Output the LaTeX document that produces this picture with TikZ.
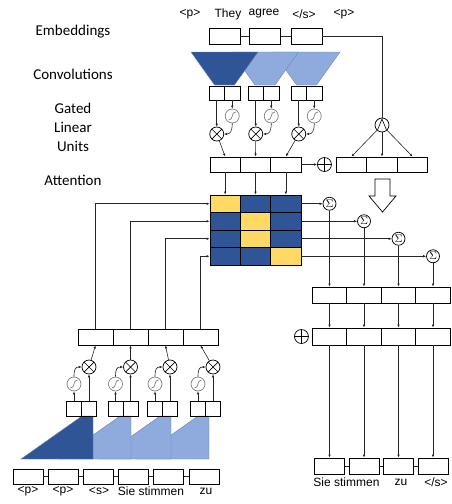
\documentclass[tikz,border=0pt]{standalone}
\usepackage{fontspec}
\setmainfont{Liberation Sans}
\newfontfamily\stagefont{Carlito}
\usetikzlibrary{arrows.meta, calc, positioning}
\definecolor{convdark}{RGB}{47,85,151}
\definecolor{convlight}{RGB}{143,170,220}
\definecolor{attn}{RGB}{255,217,102}
\tikzset{%
  >={Latex[length=3pt,width=2.6pt]},
  cell/.style = {rectangle, draw, line width=0.9pt, minimum width=30pt,
                 minimum height=15pt, inner sep=0pt},
  half/.style = {cell, minimum width=15pt},
  attcell/.style = {cell, minimum width=30.33pt, minimum height=17.5pt},
  gate/.style = {circle, draw, line width=0.7pt, minimum size=14pt, inner sep=0pt},
  mult/.style = {gate, path picture={
      \draw[line width=0.7pt]
        (path picture bounding box.north west) -- (path picture bounding box.south east)
        (path picture bounding box.north east) -- (path picture bounding box.south west);}},
  plus/.style = {gate, path picture={
      \draw[line width=0.7pt]
        (path picture bounding box.north) -- (path picture bounding box.south)
        (path picture bounding box.west) -- (path picture bounding box.east);}},
  sig/.style = {gate, draw=gray, path picture={
      \draw[gray, line width=0.7pt]
        ([shift={(-3.5,4)}]path picture bounding box.center)
        .. controls ([shift={(1.5,4)}]path picture bounding box.center)
        and ([shift={(-1.5,-4)}]path picture bounding box.center)
        .. ([shift={(3.5,-4)}]path picture bounding box.center);}},
  wedge/.style = {gate, path picture={
      \draw[line width=0.6pt]
        ([shift={(-4.5,5)}]path picture bounding box.center)
        -- ([shift={(0,-6)}]path picture bounding box.center)
        -- ([shift={(4.5,5)}]path picture bounding box.center);}},
  summ/.style = {gate, minimum size=13pt, font=\fontsize{11}{11}\selectfont},
  conn/.style = {line width=0.6pt, draw=black!85},
  tok/.style = {font=\fontsize{12}{12}\selectfont, inner sep=0pt},
  stage/.style = {font=\stagefont\fontsize{15}{19}\selectfont, align=center}
  }

\begin{document}
\begin{tikzpicture}[x=1pt, y=-1pt]
  \useasboundingbox (0,0) rectangle (452,504);

  % stage names
  \node (lemb) [stage] at (73,32) {Embeddings};
  \node (lconv) [stage] at (73,74) {Convolutions};
  \node (lglu) [stage] at (73,127) {Gated\\Linear\\Units};
  \node (latt) [stage] at (73,180) {Attention};

  % encoder
  \begin{scope}
    \node (t1) [tok] at (190,14) {<p>};
    \node (t2) [tok] at (228,14) {They};
    \node (t3) [tok] at (264,14) {agree};
    \node (t4) [tok] at (304,14) {</s>};
    \node (t5) [tok] at (344,14) {<p>};

    \foreach \x [count=\i] in {224.5,265,306.5}
      \node (e\i) [cell, minimum width=31pt, minimum height=16pt] at (\x,36) {};
    \draw[conn] (e1) -- (e2) (e2) -- (e3);

    \foreach \x/\c in {306.5/convlight, 265/convlight, 224.5/convdark}
      \filldraw[fill=\c, draw=convdark!70, line width=0.4pt]
        (\x-33.5,52) -- (\x+33.5,52) -- (\x+10,85) -- (\x-10,85) -- cycle;

    \foreach \x [count=\i] in {224.5,263.5,306.5}
    {
      \node (ca\i) [half, minimum width=15.5pt, minimum height=14pt] at (\x-7.75,93) {};
      \node (cb\i) [half, minimum width=15.5pt, minimum height=14pt] at (\x+7.75,93) {};
      \node (s\i) [sig] at (\x+7.75,116) {};
      \node (g\i) [mult] at (\x-7.75,134) {};
      \node (o\i) [cell, minimum width=30.33pt] at ({210+(\i-0.5)*30.33},164.5) {};
      \draw[conn, ->] (ca\i) -- (g\i);
      \draw[conn, ->] (cb\i) -- (s\i);
      \draw[conn, ->] (s\i.south) .. controls +(0,8) and +(6,0) .. (g\i.east);
      \draw[conn, ->] (g\i) -- (o\i.north);
    }

    \foreach \x [count=\i] in {351.5,382,412.5}
      \node (r\i) [cell, minimum width=30.5pt] at (\x,164.5) {};
    \node (plus1) [plus, left=4pt of r1] {};
    \node (and1) [wedge] at (382,125) {};
    \draw[conn, ->] (o3) -- (plus1);
    \draw[conn] (e3.east) -| (and1.north);
    \foreach \i in {1,2,3}
      \draw[conn, ->] (and1) -- (r\i.north);

    \draw[line width=0.7pt, fill=white] (375,179) -- (390,179) -- (390,196)
      -- (396,196) -- (382.5,212) -- (369,196) -- (375,196) -- cycle;
  \end{scope}

  % attention scores
  \foreach \r/\h in {1/1,2/2,3/2,4/3}
    \foreach \c in {1,2,3}
    {
      \ifnum\c=\h\def\cellfill{attn}\else\def\cellfill{convdark}\fi
      \node (m-\r-\c) [attcell, fill=\cellfill]
        at ({210+(\c-0.5)*30.33},{195+(\r-0.5)*17.5}) {};
    }
  \foreach \i in {1,2,3}
    \draw[conn, ->] (o\i) -- (m-1-\i.north);

  % decoder input
  \begin{scope}
    \foreach \x [count=\i] in {28,63.2,98.4,133.6,168.8,204}
      \node (b\i) [cell] at (\x,476.5) {};
    \foreach \i [evaluate=\i as \j using int(\i+1)] in {1,...,5}
      \draw[conn] (b\i) -- (b\j);
    \node (u1) [tok] at (28,491) {<p>};
    \node (u2) [tok] at (63,491) {<p>};
    \node (u3) [tok] at (99,491) {<s>};
    \node (u4) [tok] at (151,491) {Sie stimmen};
    \node (u5) [tok] at (206,491) {zu};

    \foreach \x/\c in {209/convlight, 171/convlight, 131/convlight, 93/convdark}
      \filldraw[fill=\c, draw=convdark!70, line width=0.4pt]
        (\x-72,459) -- (\x-11,416) -- (\x,416) -- (\x,459) -- cycle;

    \foreach \x [count=\i] in {95.5,130.5,165.5,200.5}
      \node (d\i) [cell, minimum width=35pt, minimum height=16pt] at (\x,337) {};
    \foreach \x [count=\i] in {81.5,123,162.5,205.5}
    {
      \node (dl\i) [half] at (\x-7.5,408.5) {};
      \node (dr\i) [half] at (\x+7.5,408.5) {};
      \node (ds\i) [sig] at (\x-7.5,384) {};
      \node (dg\i) [mult] at (\x+7.5,367) {};
      \draw[conn, ->] (dl\i) -- (ds\i);
      \draw[conn, ->] (dr\i) -- (dg\i);
      \draw[conn, ->] (ds\i.north) .. controls +(0,-8) and +(-6,0) .. (dg\i.west);
      \draw[conn, ->] (dg\i) -- (d\i.south);
      \draw[conn, ->] (d\i.north) |- (m-\i-1.west);
    }
  \end{scope}

  % decoder output
  \begin{scope}
    \foreach \x [count=\i] in {329.5,364,398.5,433}
    {
      \node (q\i) [cell, minimum width=34.5pt, minimum height=16pt] at (\x,295) {};
      \node (p\i) [cell, minimum width=34.5pt, minimum height=17pt] at (\x,336.5) {};
      \node (z\i) [summ] at (q\i |- m-\i-3) {$\Sigma$};
      \draw[conn, ->] (m-\i-3.east) -- (z\i);
      \draw[conn, ->] (z\i) -- (q\i.north);
      \draw[conn, ->] (q\i) -- (p\i.north);
    }
    \node (plus2) [plus, left=3pt of p1] {};

    \coordinate (outrow) at (0,466);
    \foreach \i in {1,...,4}
    {
      \node (y\i) [cell, minimum height=16pt] at (p\i |- outrow) {};
      \draw[conn, ->] (p\i) -- (y\i.north);
    }
    \draw[conn] (y1) -- (y2) (y2) -- (y3) (y3) -- (y4);
    \node (v1) [tok] at (346.5,482) {Sie stimmen};
    \node (v2) [tok] at (401,482) {zu};
    \node (v3) [tok] at (436,482) {</s>};
  \end{scope}
\end{tikzpicture}
\end{document}
